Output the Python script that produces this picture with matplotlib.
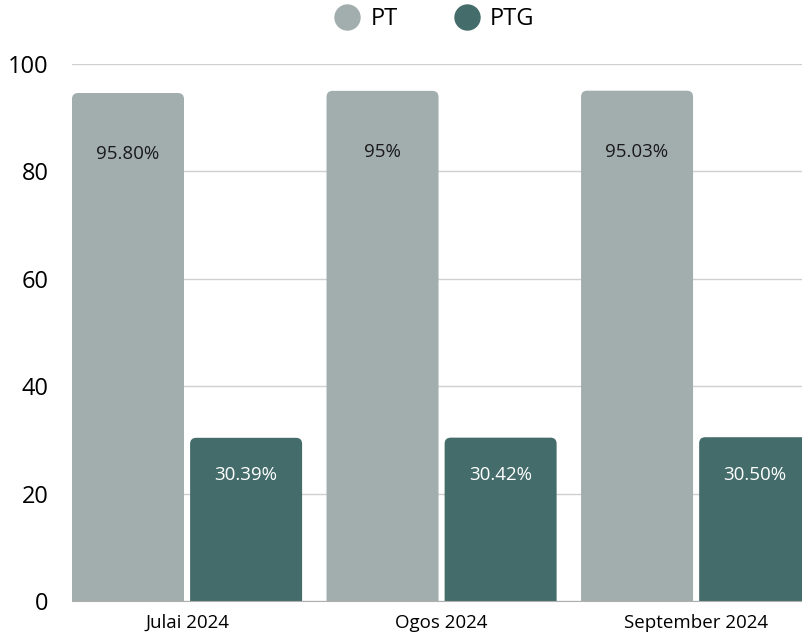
import matplotlib.pyplot as plt
from matplotlib.patches import FancyBboxPatch
from matplotlib.lines import Line2D

months = ["Julai 2024", "Ogos 2024", "September 2024"]
pt_values = [94.6, 95.0, 95.03]
ptg_values = [30.39, 30.42, 30.50]
pt_labels = ["95.80%", "95%", "95.03%"]
ptg_labels = ["30.39%", "30.42%", "30.50%"]

pt_color = "#a2adad"
ptg_color = "#436c6a"

plt.rcParams['font.family'] = ['Open Sans', 'DejaVu Sans']

fig = plt.figure(figsize=(8.03, 6.36), dpi=100)
ax = fig.add_axes([72 / 803, 1 - 601 / 636, 1 - 72 / 803, (601 - 64) / 636])

width = 0.44
gap = 0.024
x = list(range(len(months)))

bars_pt = ax.bar([i - gap / 2 - width / 2 for i in x], pt_values, width, color=pt_color)
bars_ptg = ax.bar([i + gap / 2 + width / 2 for i in x], ptg_values, width, color=ptg_color)

ax.set_xlim(-0.452, 2.42)
ax.set_ylim(0, 100)

# rounded tops: swap the plain rectangles for rounded boxes
aspect = (1.0 / 5.37) / (1.0 / 254.5)
for bars in (bars_pt, bars_ptg):
    for b in bars:
        b.set_visible(False)
        box = FancyBboxPatch((b.get_x(), -5), b.get_width(), b.get_height() + 5,
                             boxstyle="round,pad=0,rounding_size=0.024",
                             mutation_aspect=aspect, fc=b.get_facecolor(),
                             ec="none", zorder=2)
        ax.add_patch(box)

for b, lab in zip(bars_pt, pt_labels):
    ax.annotate(lab, (b.get_x() + b.get_width() / 2, b.get_height()),
                xytext=(0, -44), textcoords="offset points",
                ha="center", va="center", fontsize=13.5, color="#1a1a1a", zorder=3)
for b, lab in zip(bars_ptg, ptg_labels):
    ax.annotate(lab, (b.get_x() + b.get_width() / 2, b.get_height()),
                xytext=(0, -27), textcoords="offset points",
                ha="center", va="center", fontsize=13.5, color="white", zorder=3)

ax.set_yticks([0, 20, 40, 60, 80, 100])
ax.set_xticks(x)
ax.set_xticklabels(months, fontsize=13.5)
ax.tick_params(axis="y", length=0, pad=17, labelsize=17)
ax.tick_params(axis="x", length=0, pad=9)
ax.grid(axis="y", color="#d0d0d0", linewidth=1, zorder=0)
ax.set_axisbelow(True)
for s in ["top", "right", "left"]:
    ax.spines[s].set_visible(False)
ax.spines["bottom"].set_color("#b0b0b0")

handles = [Line2D([], [], marker="o", ls="none", ms=18, color=pt_color),
           Line2D([], [], marker="o", ls="none", ms=18, color=ptg_color)]
fig.legend(handles, ["PT", "PTG"], loc="center", bbox_to_anchor=(435 / 803, 1 - 19 / 636),
           ncol=2, frameon=False, fontsize=17, handletextpad=0.5, columnspacing=2.4,
           handlelength=1.0)

fig.savefig("out.png", dpi=100)
